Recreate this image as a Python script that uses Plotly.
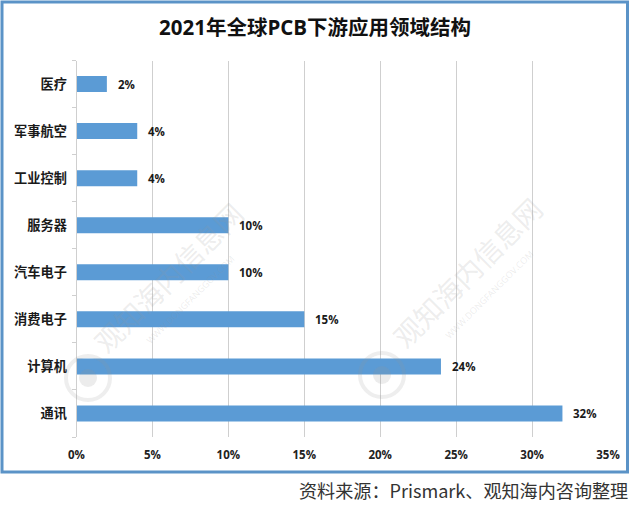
import plotly.graph_objects as go

categories = ["通讯", "计算机", "消费电子", "汽车电子", "服务器", "工业控制", "军事航空", "医疗"]
shares = [32, 24, 15, 10, 10, 4, 4, 2]
x_ticks = [0, 5, 10, 15, 20, 25, 30, 35]
title = "2021年全球PCB下游应用领域结构"
source = "资料来源：Prismark、观知海内咨询整理"
watermark = "观知海内信息网"
watermark_sub = "WWW.DONGFANGGOV.COM"

W, H = 640, 506
L, R, T, B = 76.5, 608, 60.5, 437
FONT = "Open Sans, Noto Sans CJK SC, sans-serif"
CJK = "Noto Sans CJK SC, sans-serif"

fig = go.Figure()
fig.add_trace(go.Bar(
    y=categories, x=shares, orientation="h", width=0.34,
    marker=dict(color="#5B9BD5", line=dict(width=0)),
    hoverinfo="skip",
))

annotations = []
for c, v in zip(categories, shares):
    annotations.append(dict(
        x=v, y=c, xref="x", yref="y", text=f"<b>{v}%</b>", showarrow=False,
        xanchor="left", xshift=9, font=dict(size=11.5, color="#1a1a1a", family=FONT),
    ))
annotations.append(dict(
    x=314.5 / W, y=1 - 27 / H, xref="paper", yref="paper", text=f"<b>{title}</b>",
    showarrow=False, xanchor="center", yanchor="middle",
    font=dict(size=20.5, color="#111111", family=FONT),
))
annotations.append(dict(
    x=630 / W, y=1 - 489.5 / H, xref="paper", yref="paper", text=source,
    showarrow=False, xanchor="right", yanchor="middle",
    font=dict(size=18.1, color="#333333", family=CJK),
))
for wx, wy in [(168, 277), (467, 272)]:
    annotations.append(dict(
        x=wx / W, y=1 - wy / H, xref="paper", yref="paper", text=watermark,
        showarrow=False, textangle=-45, xanchor="center", yanchor="middle",
        font=dict(size=28, color="rgba(150,150,150,0.18)", family=CJK),
    ))
    annotations.append(dict(
        x=(wx + 22) / W, y=1 - (wy + 22) / H, xref="paper", yref="paper", text=watermark_sub,
        showarrow=False, textangle=-45, xanchor="center", yanchor="middle",
        font=dict(size=9, color="rgba(150,150,150,0.18)", family=FONT),
    ))

shapes = [dict(
    type="rect", xref="paper", yref="paper",
    x0=2 / W, x1=627.5 / W, y0=1 - 472 / H, y1=1 - 2 / H,
    line=dict(color="#5B93C7", width=3), fillcolor="rgba(0,0,0,0)",
)]
for cx, cy in [(88, 378), (382, 375)]:
    shapes.append(dict(
        type="circle", xref="paper", yref="paper",
        x0=(cx - 22) / W, x1=(cx + 22) / W, y0=1 - (cy + 22) / H, y1=1 - (cy - 22) / H,
        line=dict(color="rgba(150,150,150,0.16)", width=4), fillcolor="rgba(0,0,0,0)",
    ))
    shapes.append(dict(
        type="circle", xref="paper", yref="paper",
        x0=(cx - 9) / W, x1=(cx + 9) / W, y0=1 - (cy + 9) / H, y1=1 - (cy - 9) / H,
        line=dict(width=0), fillcolor="rgba(150,150,150,0.18)",
    ))

fig.update_layout(
    width=W, height=H, autosize=False,
    paper_bgcolor="white", plot_bgcolor="white", showlegend=False,
    margin=dict(l=0, r=0, t=0, b=0),
    annotations=annotations, shapes=shapes,
    xaxis=dict(
        domain=[L / W, R / W], range=[0, 35], tickvals=x_ticks,
        ticktext=[f"<b>{t}%</b>" for t in x_ticks],
        showgrid=True, gridcolor="#CFCFCF", gridwidth=1, zeroline=False, showline=False,
        ticks="", tickfont=dict(size=11.5, color="#222222", family=FONT),
        automargin=False, ticklabelstandoff=9,
    ),
    yaxis=dict(
        domain=[1 - B / H, 1 - T / H], type="category",
        categoryorder="array", categoryarray=categories,
        showgrid=False, zeroline=False, showline=True, linecolor="#CFCFCF", linewidth=1,
        ticks="outside", ticklen=4, tickcolor="#CFCFCF", tickson="boundaries",
        ticktext=[f"<b>{c}</b>" for c in categories], tickvals=categories,
        tickfont=dict(size=13.2, color="#1a1a1a", family=CJK), automargin=False,
        ticklabelstandoff=6,
    ),
)

fig.write_html("out.html", config={"displayModeBar": False},
               post_script="document.body.style.margin='0';")
